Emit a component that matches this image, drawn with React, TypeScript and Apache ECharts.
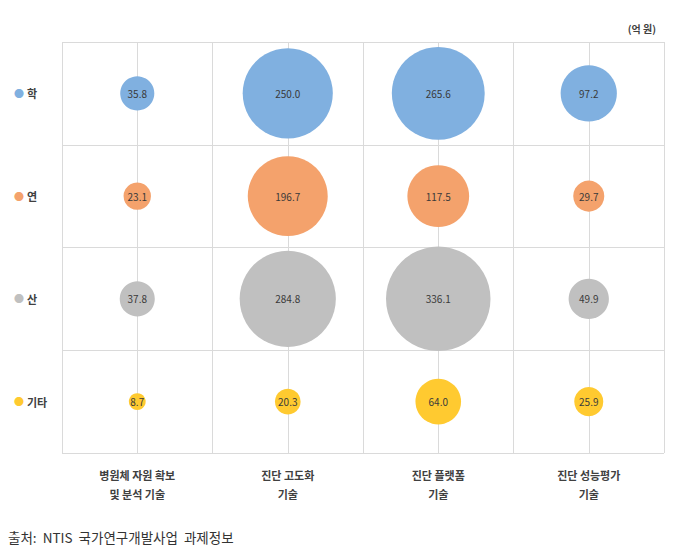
import React, { useEffect, useRef } from "react";
import * as echarts from "echarts";

const categories = ["병원체 자원 확보\n및 분석 기술", "진단 고도화\n기술", "진단 플랫폼\n기술", "진단 성능평가\n기술"];
const rowNames = ["학", "연", "산", "기타"];
const rowColors = ["#80B0E0", "#F4A26C", "#C0C0C0", "#FFCA30"];
const valuesHak = [35.8, 250.0, 265.6, 97.2];
const valuesYeon = [23.1, 196.7, 117.5, 29.7];
const valuesSan = [37.8, 284.8, 336.1, 49.9];
const valuesEtc = [8.7, 20.3, 64.0, 25.9];
const unitText = "(억 원)";
const sourceText = "출처:  NTIS  국가연구개발사업  과제정보";

const FONT = "'Noto Sans CJK KR', 'Noto Sans', sans-serif";

export default function App() {
  const ref = useRef<HTMLDivElement>(null);
  useEffect(() => {
    if (!ref.current) return;
    const chart = echarts.init(ref.current, null, { renderer: "svg" });
    const rows = [valuesHak, valuesYeon, valuesSan, valuesEtc];
    const rich: any = {};
    rowColors.forEach((c, i) => {
      rich["d" + i] = { color: c, fontSize: 10, fontFamily: FONT };
    });
    rich.t = { color: "#404040", fontSize: 11, fontWeight: "bold", fontFamily: FONT, padding: [0, 0, 0, 3] };
    const series = rows.map((vals, r) => ({
      type: "scatter",
      name: rowNames[r],
      xAxisIndex: 0,
      yAxisIndex: 0,
      data: vals.map((v, c) => [c + 0.5, 3.5 - r, v]),
      symbolSize: (d: number[]) => 5.7 * Math.sqrt(d[2]),
      itemStyle: { color: rowColors[r], opacity: 1 },
      label: {
        show: true,
        position: "inside",
        formatter: (p: any) => p.value[2].toFixed(1),
        fontSize: 10,
        color: "#3A3A3A",
        fontFamily: FONT,
      },
      z: 3,
    }));
    chart.setOption({
      animation: false,
      backgroundColor: "#ffffff",
      textStyle: { fontFamily: FONT },
      grid: { left: 62, right: 25, top: 42, bottom: 103 },
      xAxis: [
        {
          type: "value",
          min: 0,
          max: 4,
          interval: 0.5,
          axisLine: { show: false },
          axisTick: { show: false },
          axisLabel: { show: false },
          splitLine: { show: true, lineStyle: { color: "#DADADA", width: 1 } },
        },
        {
          type: "category",
          data: categories,
          position: "bottom",
          boundaryGap: true,
          axisLine: { show: false },
          axisTick: { show: false },
          splitLine: { show: false },
          axisLabel: {
            margin: 12,
            fontSize: 11,
            fontWeight: "bold",
            color: "#404040",
            lineHeight: 19,
            fontFamily: FONT,
            interval: 0,
          },
        },
      ],
      yAxis: [
        {
          type: "value",
          min: 0,
          max: 4,
          interval: 1,
          axisLine: { show: false },
          axisTick: { show: false },
          axisLabel: { show: false },
          splitLine: { show: true, lineStyle: { color: "#DADADA", width: 1 } },
        },
        {
          type: "category",
          data: rowNames,
          inverse: true,
          position: "left",
          boundaryGap: true,
          axisLine: { show: false },
          axisTick: { show: false },
          splitLine: { show: false },
          axisLabel: {
            margin: 48,
            align: "left",
            interval: 0,
            formatter: (v: string, i: number) => `{d${i}|●}{t|${v}}`,
            rich,
          },
        },
      ],
      series,
      graphic: [
        {
          type: "text",
          right: 33,
          top: 23,
          style: { text: unitText, fontSize: 10, fontWeight: "bold", fill: "#404040", fontFamily: FONT },
        },
        {
          type: "text",
          left: 8,
          top: 530,
          style: { text: sourceText, fontSize: 13.5, fill: "#333333", fontFamily: FONT },
        },
      ],
    });
    return () => chart.dispose();
  }, []);
  return <div ref={ref} style={{ position: "fixed", left: 0, top: 0, width: 689, height: 556 }} />;
}
